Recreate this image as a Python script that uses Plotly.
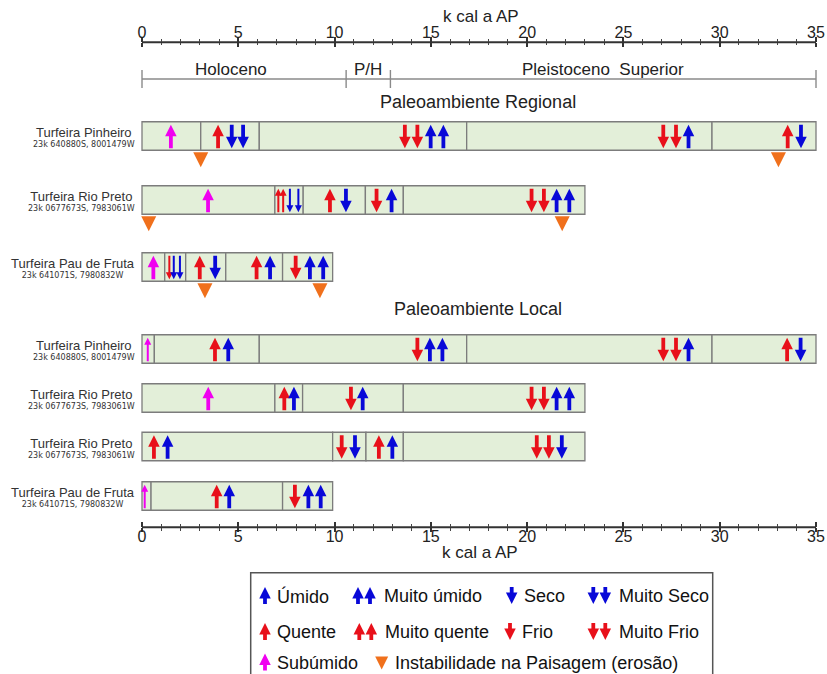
import plotly.graph_objects as go

# ---------------- data ----------------
age_ticks = [0, 5, 10, 15, 20, 25, 30, 35]
axis_title = "k cal a AP"

period_names = ["Holoceno", "P/H", "Pleistoceno  Superior"]
period_bounds = [0, 10.6, 12.9, 35]
period_label_x = [4.6, 11.75, 23.95]

section_titles = ["Paleoambiente Regional", "Paleoambiente Local"]

row_names = ["Turfeira Pinheiro", "Turfeira Rio Preto", "Turfeira Pau de Fruta",
             "Turfeira Pinheiro", "Turfeira Rio Preto", "Turfeira Rio Preto",
             "Turfeira Pau de Fruta"]
row_coords = ["23k 640880S, 8001479W", "23k 0677673S, 7983061W", "23k 641071S, 7980832W",
              "23k 640880S, 8001479W", "23k 0677673S, 7983061W", "23k 0677673S, 7983061W",
              "23k 641071S, 7980832W"]

# segment boundaries (k cal a AP)
row_bounds = [
    [0, 3.05, 6.09, 16.86, 29.6, 35],
    [0, 6.9, 8.37, 11.6, 13.57, 23],
    [0, 1.18, 2.27, 4.35, 7.3, 9.9],
    [0, 0.64, 6.09, 16.86, 29.6, 35],
    [0, 6.9, 8.34, 13.57, 23],
    [0, 9.9, 11.63, 13.57, 23],
    [0, 0.47, 7.3, 9.9],
]

# arrows: (age, kind)  U=úmido  S=seco  Q=quente  F=frio  B=subúmido
row_arrows = [
    [(1.5, "B"), (3.95, "Q"), (4.66, "S"), (5.25, "S"), (13.65, "F"), (14.3, "F"),
     (14.99, "U"), (15.65, "U"), (27.07, "F"), (27.73, "F"), (28.38, "U"),
     (33.53, "Q"), (34.22, "S")],
    [(3.43, "B"), (7.08, "Q"), (7.33, "Q"), (7.68, "S"), (8.12, "S"), (9.76, "Q"),
     (10.59, "S"), (12.18, "F"), (12.96, "U"), (20.23, "F"), (20.87, "F"),
     (21.53, "U"), (22.19, "U")],
    [(0.59, "B"), (1.42, "F"), (1.65, "S"), (1.97, "S"), (3.0, "Q"), (3.8, "S"),
     (5.95, "Q"), (6.65, "U"), (7.98, "F"), (8.72, "U"), (9.41, "U")],
    [(0.3, "B"), (3.79, "Q"), (4.48, "U"), (14.3, "F"), (14.95, "U"), (15.6, "U"),
     (27.07, "F"), (27.73, "F"), (28.38, "U"), (33.5, "Q"), (34.2, "S")],
    [(3.44, "B"), (7.39, "Q"), (7.89, "U"), (10.85, "F"), (11.46, "U"),
     (20.23, "F"), (20.87, "F"), (21.53, "U"), (22.19, "U")],
    [(0.62, "Q"), (1.33, "U"), (10.37, "F"), (11.06, "S"), (12.3, "Q"), (13.0, "U"),
     (20.5, "F"), (21.13, "F"), (21.8, "S")],
    [(0.14, "B"), (3.88, "Q"), (4.53, "U"), (7.94, "F"), (8.64, "U"), (9.28, "U")],
]

# landscape instability (erosion) events
row_erosion = [[3.05, 33.05], [0.35, 21.82], [3.27, 9.24], [], [], [], []]

legend_labels = ["Úmido", "Muito úmido", "Seco", "Muito Seco",
                 "Quente", "Muito quente", "Frio", "Muito Frio",
                 "Subúmido", "Instabilidade na Paisagem (erosão)"]
legend_glyphs = ["U", "UU", "S", "SS", "Q", "QQ", "F", "FF", "B", "T"]

# ---------------- layout / style ----------------
W, H = 827, 674
PX0, PX35 = 142.0, 816.0
PXU = (PX35 - PX0) / 35.0
XPAD = 0.4
FONT = "Arial, 'Liberation Sans', sans-serif"
TXT = "#222222"
BLUE, RED, MAGENTA, ORANGE = "#0808d8", "#e8101a", "#f000f0", "#f0701c"
FILL, EDGE = "#e3efd9", "#7c7c7c"
KIND = {"U": (BLUE, "up"), "S": (BLUE, "down"), "Q": (RED, "up"),
        "F": (RED, "down"), "B": (MAGENTA, "up")}

ROW_Y = [136, 200, 267, 349, 398, 446.5, 496]
ROW_H = 28.5
TOP_AXIS_Y, BOT_AXIS_Y = 42.3, 527.3
PERIOD_Y = 79
SECTION_Y = [102, 309]

# legend layout: (glyph pixel x, text pixel x, row pixel y)
legend_pos = [(265, 275, 596), (358, 381.5, 596), (511.7, 521.7, 596), (593.3, 616.7, 596),
              (265, 275, 632), (359.3, 383.3, 632), (510, 520, 632), (593.3, 616.7, 632),
              (265, 275, 662.5), (381.7, 393.3, 662.5)]


def px2x(px):
    return (px - PX0) / PXU


fig = go.Figure()

# ---- bars (segments) ----
seg_y, seg_base, seg_len = [], [], []
for c, b in zip(ROW_Y, row_bounds):
    for a0, a1 in zip(b[:-1], b[1:]):
        seg_y.append(c)
        seg_base.append(a0)
        seg_len.append(a1 - a0)
fig.add_trace(go.Bar(orientation="h", y=seg_y, x=seg_len, base=seg_base, width=ROW_H,
                     marker=dict(color=FILL, line=dict(color=EDGE, width=1.3)),
                     hoverinfo="skip", showlegend=False))

# ---- arrows ----
shafts = {}
heads = {}


def add_arrow(x, kind, top, bottom, thin):
    color, d = KIND[kind]
    hs = 7 if thin else 11.5
    if d == "up":
        tip, base, hb = top, bottom, top + hs * 0.7
    else:
        tip, base, hb = bottom, top, bottom - hs * 0.7
    xs, ys = shafts.setdefault((color, thin), ([], []))
    xs += [x, x, None]
    ys += [base, hb, None]
    h = heads.setdefault(color, ([], [], [], []))
    h[0].append(x)
    h[1].append(tip)
    h[2].append("arrow-up" if d == "up" else "arrow-down")
    h[3].append(hs)


for c, b, arrows in zip(ROW_Y, row_bounds, row_arrows):
    top = c - ROW_H / 2 + 3
    bottom = c + ROW_H / 2 - 2
    xs = [a[0] for a in arrows]
    for i, (x, k) in enumerate(arrows):
        gaps = [abs(x - o) for j, o in enumerate(xs) if j != i]
        seg = next(b1 - b0 for b0, b1 in zip(b[:-1], b[1:]) if b0 <= x <= b1)
        thin = (min(gaps) < 0.48) or seg < 0.7
        add_arrow(x, k, top, bottom, thin)

# legend glyphs
tri_x, tri_y = [], []
for g, (gx, tx, cy) in zip(legend_glyphs, legend_pos):
    if g == "T":
        tri_x.append(px2x(gx))
        tri_y.append(cy + 7)
        continue
    for n in range(len(g)):
        add_arrow(px2x(gx + n * 12), g[0], cy - 9, cy + 8, False)

for (color, thin), (xs, ys) in shafts.items():
    fig.add_trace(go.Scatter(x=xs, y=ys, mode="lines",
                             line=dict(color=color, width=2 if thin else 3.8),
                             hoverinfo="skip", showlegend=False))
for color, (xs, ys, syms, sizes) in heads.items():
    fig.add_trace(go.Scatter(x=xs, y=ys, mode="markers", cliponaxis=False,
                             marker=dict(symbol=syms, size=sizes, color=color, opacity=1,
                                         line=dict(width=0)),
                             hoverinfo="skip", showlegend=False))

# erosion triangles
ex, ey, es = [], [], []
for c, ev in zip(ROW_Y, row_erosion):
    for x in ev:
        ex.append(x)
        ey.append(c + ROW_H / 2 + 17)
        es.append(15)
ex += tri_x
ey += tri_y
es += [13] * len(tri_x)
fig.add_trace(go.Scatter(x=ex, y=ey, mode="markers", cliponaxis=False,
                         marker=dict(symbol="arrow-down", size=es, color=ORANGE, opacity=1,
                                     line=dict(width=0)),
                         hoverinfo="skip", showlegend=False))

# period bracket
bx, by = [0, 35, None], [PERIOD_Y, PERIOD_Y, None]
for p in period_bounds:
    bx += [p, p, None]
    by += [PERIOD_Y - 9, PERIOD_Y + 9, None]
fig.add_trace(go.Scatter(x=bx, y=by, mode="lines", line=dict(color="#8a8a8a", width=1.4),
                         hoverinfo="skip", showlegend=False))

# axis lines
fig.add_trace(go.Scatter(x=[0, 35, None, 0, 35], y=[TOP_AXIS_Y, TOP_AXIS_Y, None, BOT_AXIS_Y, BOT_AXIS_Y],
                         mode="lines", line=dict(color="#333333", width=2),
                         hoverinfo="skip", showlegend=False))

# dummy traces so overlay axes are drawn
for ax in ["x2", "x3", "x4"]:
    fig.add_trace(go.Scatter(x=[None], y=[None], xaxis=ax, yaxis="y", showlegend=False,
                             hoverinfo="skip"))

# ---- annotations ----
ann = []
for name, x in zip(period_names, period_label_x):
    ann.append(dict(x=x, y=PERIOD_Y - 10, xref="x", yref="y", text=name, showarrow=False,
                    font=dict(family=FONT, size=17, color=TXT), yanchor="middle"))
for t, y in zip(section_titles, SECTION_Y):
    ann.append(dict(x=478 / W, y=y, xref="paper", yref="y", text=t, showarrow=False,
                    font=dict(family=FONT, size=18, color=TXT)))
for name, coord, c in zip(row_names, row_coords, ROW_Y):
    ann.append(dict(x=137 / W, y=c + 1, xref="paper", yref="y", xanchor="right",
                    yanchor="middle", align="center", showarrow=False,
                    text=("<span style='font-size:13px;font-family:Arial,Liberation Sans'>"
                          + name + "</span><br>" + coord),
                    font=dict(family="DejaVu Sans", size=8, color="#333333")))
ann.append(dict(x=481 / W, y=16, xref="paper", yref="y", text=axis_title, showarrow=False,
                font=dict(family=FONT, size=17, color=TXT)))
ann.append(dict(x=480 / W, y=552, xref="paper", yref="y", text=axis_title, showarrow=False,
                font=dict(family=FONT, size=17, color=TXT)))
for lab, (gx, tx, cy) in zip(legend_labels, legend_pos):
    ann.append(dict(x=tx / W, y=cy, xref="paper", yref="y", xanchor="left", yanchor="middle",
                    text=lab, showarrow=False, font=dict(family=FONT, size=18, color="#111111")))

dom = [(PX0 - XPAD * PXU) / W, (PX35 + XPAD * PXU) / W]
bot_pos = 1 - BOT_AXIS_Y / H
top_pos = 1 - TOP_AXIS_Y / H
common = dict(range=[-XPAD, 35 + XPAD], domain=dom, anchor="free", showgrid=False,
              zeroline=False, showline=False, tickvals=age_ticks, tickcolor="#333333",
              tickwidth=2, fixedrange=True)
fig.update_layout(
    width=W, height=H, margin=dict(l=0, r=0, t=0, b=0, autoexpand=False),
    paper_bgcolor="white", plot_bgcolor="rgba(0,0,0,0)", barmode="overlay",
    showlegend=False,
    xaxis=dict(**common, position=bot_pos, side="bottom", ticks="outside", ticklen=4,
               ticklabelstandoff=-10,
               tickfont=dict(family=FONT, size=16, color=TXT),
               minor=dict(dtick=1, tick0=0, ticks="outside", ticklen=3, tickwidth=1,
                          tickcolor="#444444")),
    xaxis2=dict(**common, position=bot_pos, side="bottom", overlaying="x", matches="x",
                ticks="inside", ticklen=5, showticklabels=False,
                minor=dict(dtick=1, tick0=0, ticks="inside", ticklen=3, tickwidth=1,
                           tickcolor="#444444")),
    xaxis3=dict(**common, position=top_pos, side="top", overlaying="x", matches="x",
                ticks="outside", ticklen=5, ticklabelstandoff=-7,
                tickfont=dict(family=FONT, size=16, color=TXT),
                minor=dict(dtick=1, tick0=0, ticks="outside", ticklen=3, tickwidth=1,
                           tickcolor="#444444")),
    xaxis4=dict(**common, position=top_pos, side="top", overlaying="x", matches="x",
                ticks="inside", ticklen=4, showticklabels=False,
                minor=dict(dtick=1, tick0=0, ticks="inside", ticklen=2, tickwidth=1,
                           tickcolor="#444444")),
    yaxis=dict(range=[H, 0], domain=[0, 1], visible=False, fixedrange=True),
    annotations=ann,
    shapes=[dict(type="rect", xref="paper", yref="paper", x0=250.7 / W, x1=712.7 / W,
                 y0=-0.05, y1=1 - 572.7 / H, line=dict(color="#555555", width=1.5),
                 fillcolor="rgba(0,0,0,0)", layer="below")],
)

fig.write_html("out.html", config={"displayModeBar": False},
               post_script="document.body.style.margin='0';document.body.style.overflow='hidden';")
